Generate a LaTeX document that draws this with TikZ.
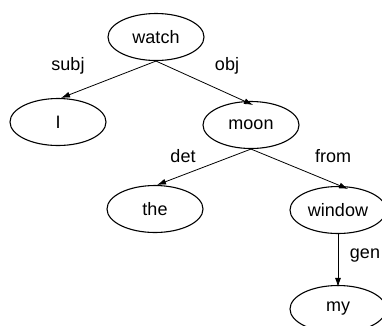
\documentclass[tikz,border=0pt]{standalone}
\usepackage{fontspec}
\setmainfont{Liberation Sans}
\usetikzlibrary{shapes.geometric,arrows.meta}
\begin{document}
\begin{tikzpicture}[x=1pt,y=-1pt,
  word/.style={ellipse,draw,line width=1.1pt,minimum width=96pt,minimum height=47pt,
    inner sep=0pt,font=\fontsize{18}{20}\selectfont},
  rel/.style={font=\fontsize{18}{20}\selectfont,inner sep=0pt},
  dep/.style={draw,line width=0.8pt,-{Latex[length=9pt,width=6pt]}}]
\useasboundingbox (0,0) rectangle (382,325);
% word nodes
\node[word] (watch)  at (156,37)  {watch};
\node[word] (i)      at (58,122)  {I};
\node[word] (moon)   at (251,125) {moon};
\node[word] (the)    at (155,209) {the};
\node[word] (window) at (338,210) {window};
\node[word] (my)     at (338,309) {my};
% dependency labels
\node[rel] (lsubj) at (68,66)  {subj};
\node[rel] (lobj)  at (227,66) {obj};
\node[rel] (ldet)  at (183,156) {det};
\node[rel] (lfrom) at (333,156) {from};
\node[rel] (lgen)  at (365,256) {gen};
% dependency arcs
\draw[dep] (watch.south) -- ([xshift=3pt]i.north);
\draw[dep] (watch.south) -- ([xshift=2pt,yshift=-4pt]moon.north);
\draw[dep] (moon.south) -- ([xshift=2pt]the.north);
\draw[dep] (moon.south) -- ([xshift=10pt,yshift=-3pt]window.north);
\draw[dep] (window.south) -- ([yshift=-2pt]my.north);
\end{tikzpicture}
\end{document}
